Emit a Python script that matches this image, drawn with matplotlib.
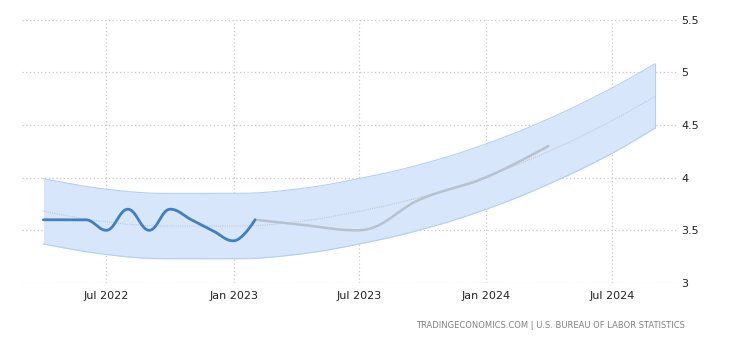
import numpy as np
import pandas as pd
import matplotlib
matplotlib.use("Agg")
import matplotlib.pyplot as plt
import matplotlib.dates as mdates

# US unemployment rate (%), monthly
actual_dates = ["2022-04-01", "2022-05-01", "2022-06-01", "2022-07-01", "2022-08-01",
                "2022-09-01", "2022-10-01", "2022-11-01", "2022-12-01", "2023-01-01",
                "2023-02-01"]
actual_values = [3.6, 3.6, 3.6, 3.5, 3.7, 3.5, 3.7, 3.6, 3.5, 3.4, 3.6]

# forecast path
forecast_dates = ["2023-02-01", "2023-03-31", "2023-06-30", "2023-09-30",
                  "2023-12-31", "2024-03-31"]
forecast_values = [3.6, 3.56, 3.5, 3.8, 4.0, 4.3]

# trend line with its band
trend_dates = ["2022-04-01", "2022-07-01", "2022-10-01", "2023-01-01", "2023-04-01",
               "2023-07-01", "2023-10-01", "2024-01-01", "2024-04-01", "2024-07-01",
               "2024-09-01"]
trend_values = [3.68, 3.58, 3.54, 3.54, 3.58, 3.68, 3.82, 4.01, 4.25, 4.54, 4.77]
band_upper = [3.99, 3.89, 3.85, 3.85, 3.89, 3.99, 4.13, 4.32, 4.56, 4.85, 5.08]
band_lower = [3.37, 3.27, 3.23, 3.23, 3.27, 3.37, 3.51, 3.70, 3.94, 4.23, 4.47]

y_ticks = [3, 3.5, 4, 4.5, 5, 5.5]
y_tick_labels = ["3", "3.5", "4", "4.5", "5", "5.5"]
x_ticks = ["2022-07-01", "2023-01-01", "2023-07-01", "2024-01-01", "2024-07-01"]
source_text = "TRADINGECONOMICS.COM | U.S. BUREAU OF LABOR STATISTICS"


def spline(dates, values, steps=40, smoothing=1.5):
    """Bezier spline through the points (control points set from neighbours,
    clamped so that no false extremes appear)."""
    x = mdates.date2num(pd.to_datetime(dates)).astype(float)
    y = np.asarray(values, dtype=float)
    n = len(x)
    lcx, lcy = x.copy(), y.copy()
    rcx, rcy = x.copy(), y.copy()
    den = smoothing + 1
    for i in range(1, n - 1):
        lx = (smoothing * x[i] + x[i - 1]) / den
        ly = (smoothing * y[i] + y[i - 1]) / den
        rx = (smoothing * x[i] + x[i + 1]) / den
        ry = (smoothing * y[i] + y[i + 1]) / den
        corr = 0.0
        if rx != lx:
            corr = (ry - ly) * (rx - x[i]) / (rx - lx) + y[i] - ry
        ly += corr
        ry += corr
        if ly > y[i - 1] and ly > y[i]:
            ly = max(y[i - 1], y[i]); ry = 2 * y[i] - ly
        elif ly < y[i - 1] and ly < y[i]:
            ly = min(y[i - 1], y[i]); ry = 2 * y[i] - ly
        if ry > y[i + 1] and ry > y[i]:
            ry = max(y[i + 1], y[i]); ly = 2 * y[i] - ry
        elif ry < y[i + 1] and ry < y[i]:
            ry = min(y[i + 1], y[i]); ly = 2 * y[i] - ry
        lcx[i], lcy[i], rcx[i], rcy[i] = lx, ly, rx, ry
    t = np.linspace(0, 1, steps)[:, None]
    xs, ys = [], []
    for i in range(n - 1):
        px = np.array([x[i], rcx[i], lcx[i + 1], x[i + 1]])
        py = np.array([y[i], rcy[i], lcy[i + 1], y[i + 1]])
        b = np.hstack([(1 - t) ** 3, 3 * (1 - t) ** 2 * t, 3 * (1 - t) * t ** 2, t ** 3])
        xs.append(b @ px)
        ys.append(b @ py)
    return np.concatenate(xs), np.concatenate(ys)


fig = plt.figure(figsize=(7.3, 3.4), dpi=100)
ax = fig.add_axes([22 / 730, 1 - 283 / 340, (677 - 22) / 730, (283 - 19.5) / 340])

# band
bx, bu = spline(trend_dates, band_upper)
_, bl = spline(trend_dates, band_lower)
ax.fill_between(bx, bl, bu, color="#d7e6fa", lw=0, zorder=1)
ax.plot(bx, bu, color="#b3cff3", lw=0.8, zorder=2)
ax.plot(bx, bl, color="#b3cff3", lw=0.8, zorder=2)
ax.plot([bx[-1], bx[-1]], [bl[-1], bu[-1]], color="#b3cff3", lw=0.8, zorder=2)

# trend
tx, ty = spline(trend_dates, trend_values)
ax.plot(tx, ty, color="#c4c9d0", lw=0.8, ls=(0, (1, 1)), zorder=3)

# forecast
fx, fy = spline(forecast_dates, forecast_values)
ax.plot(fx, fy, color="#b8c2cf", lw=1.8, zorder=4, solid_capstyle="round")

# actual
axx, axy = spline(actual_dates, actual_values)
ax.plot(axx, axy, color="#3f7fc3", lw=2.0, zorder=5, solid_capstyle="round")

ax.set_ylim(3, 5.5)
ax.set_xlim(mdates.date2num(pd.Timestamp("2022-03-01")),
            mdates.date2num(pd.Timestamp("2024-10-03")))

ax.set_yticks(y_ticks)
ax.set_yticklabels(y_tick_labels)
ax.yaxis.tick_right()
ax.set_xticks(mdates.date2num(pd.to_datetime(x_ticks)))
ax.xaxis.set_major_formatter(mdates.DateFormatter("%b %Y"))

ax.tick_params(axis="both", length=0, labelsize=8, colors="#222222")
ax.tick_params(axis="y", pad=3)
ax.tick_params(axis="x", pad=6)
for sp in ax.spines.values():
    sp.set_visible(False)

ax.grid(True, color="#c8c8c8", ls=(0, (1, 2)), lw=0.9)
ax.set_axisbelow(True)

fig.text(685 / 730, 1 - 325 / 340, source_text, ha="right", va="center",
         fontsize=6.0, color="#808080")

fig.savefig("out.png", dpi=100)
